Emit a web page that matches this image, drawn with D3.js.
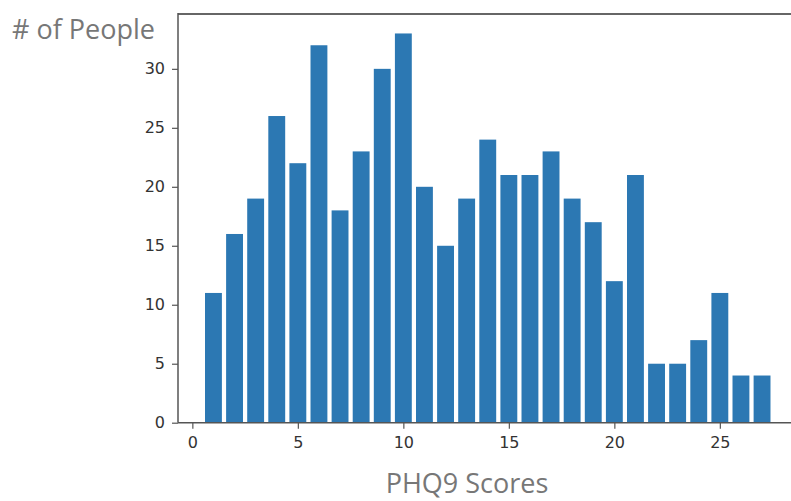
<!DOCTYPE html>
<html>
<head>
<meta charset="utf-8">
<script src="https://cdn.jsdelivr.net/npm/d3@7"></script>
<style>
  body { margin: 0; background: #fff; }
  svg { display: block; }
</style>
</head>
<body>
<div id="Container"></div>
<script>
// PHQ9 score histogram
var scores = [1,2,3,4,5,6,7,8,9,10,11,12,13,14,15,16,17,18,19,20,21,22,23,24,25,26,27];
var people = [11,16,19,26,22,32,18,23,30,33,20,15,19,24,21,21,23,19,17,12,21,5,5,7,11,4,4];
var xTicks = [0,5,10,15,20,25];
var yTicks = [0,5,10,15,20,25,30];

var W = 791, H = 501;
var plotL = 178, plotT = 14, plotB = 422.7;

var canvas = d3.select("#Container").append("svg")
    .attr("width", W)
    .attr("height", H);

var x = d3.scaleLinear()
    .domain([-0.68, 28.8])
    .range([plotL, plotL + 29.48 * 21.1]);

var y = d3.scaleLinear()
    .domain([0, d3.max(people) * 1.05])
    .range([plotB, plotT]);

var barW = 0.8;

// bars
canvas.selectAll("rect.bar")
    .data(scores)
    .enter()
    .append("rect")
        .attr("class", "bar")
        .attr("x", function(d) { return x(d - barW / 2); })
        .attr("width", function(d) { return x(barW) - x(0); })
        .attr("y", function(d, i) { return y(people[i]); })
        .attr("height", function(d, i) { return y(0) - y(people[i]); })
        .attr("fill", "#2c78b3");

// axes
var xAxis = canvas.append("g")
    .attr("transform", "translate(0," + plotB + ")")
    .call(d3.axisBottom(x).tickValues(xTicks).tickSize(6).tickPadding(8).tickFormat(d3.format("d")));

var yAxis = canvas.append("g")
    .attr("transform", "translate(" + plotL + ",0)")
    .call(d3.axisLeft(y).tickValues(yTicks).tickSize(6).tickPadding(7).tickFormat(d3.format("d")));

[xAxis, yAxis].forEach(function(g) {
    g.select(".domain").remove();
    g.selectAll(".tick line").attr("stroke", "#555").attr("stroke-width", 1.2);
    g.selectAll(".tick text")
        .attr("font-family", "'DejaVu Sans', sans-serif")
        .attr("font-size", 16)
        .attr("fill", "#333");
});

// spines
canvas.append("line")
    .attr("x1", plotL).attr("x2", W)
    .attr("y1", plotB).attr("y2", plotB)
    .attr("stroke", "#555").attr("stroke-width", 1.5);
canvas.append("line")
    .attr("x1", plotL).attr("x2", W)
    .attr("y1", plotT).attr("y2", plotT)
    .attr("stroke", "#666").attr("stroke-width", 2);
canvas.append("line")
    .attr("x1", plotL).attr("x2", plotL)
    .attr("y1", plotT - 1).attr("y2", plotB)
    .attr("stroke", "#555").attr("stroke-width", 1.5);

// axis titles
canvas.append("text")
    .text("# of People")
    .attr("x", 12)
    .attr("y", 39)
    .attr("font-family", "'Open Sans', sans-serif")
    .attr("font-size", 27)
    .attr("fill", "#777");

canvas.append("text")
    .text("PHQ9 Scores")
    .attr("x", 467)
    .attr("y", 493)
    .attr("text-anchor", "middle")
    .attr("font-family", "'Open Sans', sans-serif")
    .attr("font-size", 27)
    .attr("fill", "#777");
</script>
</body>
</html>
